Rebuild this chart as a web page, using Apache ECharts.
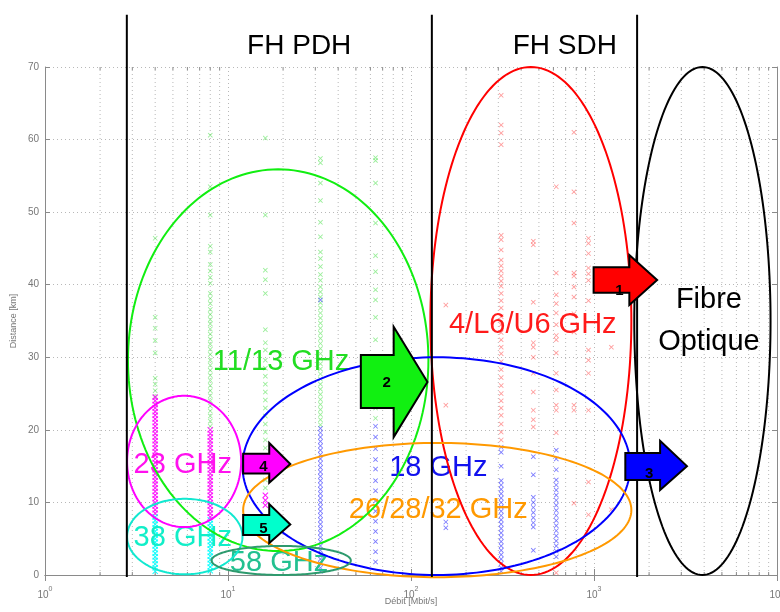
<!DOCTYPE html>
<html>
<head>
<meta charset="utf-8">
<script src="https://cdn.jsdelivr.net/npm/echarts@6/dist/echarts.min.js"></script>
<style>
  html, body { margin: 0; padding: 0; background: #fff; }
  #chart { width: 780px; height: 612px; }
</style>
</head>
<body>
<div id="chart"></div>
<script>
// Microwave link inventory: distance (km) versus bit rate (Mbit/s), per frequency band.
// Each band lists [bit rate, distances of the links at that rate].
const band11_13GHz = [
  [4,  [46.4, 35.5, 34.0, 32.3, 30.6, 27.1, 26.3, 25.4, 24.6]],
  [8,  [60.6, 53.5, 49.6, 45.3, 44.5, 42.8, 41.9, 41.0, 40.2, 38.8, 38.1, 37.4, 36.6, 35.9, 35.2, 34.6, 33.9, 33.2, 32.5, 31.8, 31.1, 30.4, 29.6, 28.9, 28.2, 27.5, 26.8, 26.1, 25.4, 24.7, 24.0, 23.3, 22.6, 21.9, 21.2, 20.5]],
  [16, [60.2, 49.6, 42.0, 40.7, 38.8, 33.8, 32.0, 31.0, 29.6, 28.5, 27.4, 26.3, 25.2, 24.1, 23.0, 21.9, 20.8, 19.7, 18.6, 17.5, 16.4, 15.3, 14.2, 13.1, 12.0]],
  [32, [57.4, 56.8, 54.0, 51.6, 48.6, 46.6, 44.5, 43.6, 42.5, 41.4, 40.6, 39.7, 39.0, 38.3, 37.5, 36.8, 36.1, 35.4, 34.7, 34.0, 33.3, 32.6, 31.9, 31.2, 30.5, 29.8, 29.1, 28.4, 27.7, 27.0, 26.3, 25.6, 24.9, 24.2, 23.5, 22.8, 22.1, 21.4, 20.7]],
  [64, [57.5, 57.1, 54.0, 48.5, 44.0, 41.8, 39.3, 37.9, 35.5, 32.4, 30.0, 28.0, 26.0, 24.5, 23.0, 21.6]]
];
const band23GHz = [
  [4,  [24.5, 24.0, 23.5, 23.0, 22.5, 22.0, 21.5, 21.0, 20.5, 20.0, 19.5, 19.0, 18.5, 18.0, 17.5, 17.0, 16.5, 16.0, 15.5, 15.0, 14.5, 14.0, 13.5, 13.0, 12.5, 12.0, 11.5, 11.0, 10.5, 10.0, 9.5, 9.0, 8.5]],
  [8,  [20.0, 19.5, 19.0, 18.5, 18.0, 17.5, 17.0, 16.5, 16.0, 15.5, 15.0, 14.5, 14.0, 13.5, 13.0, 12.5, 12.0, 11.5, 11.0, 10.5, 10.0, 9.5, 9.0, 8.5, 8.0]],
  [16, [11.0, 10.3, 9.6]]
];
const band38GHz = [
  [4, [8.0, 7.5, 7.0, 6.5, 6.0, 5.5, 5.0, 4.5, 4.0, 3.5, 3.0, 2.5, 2.0, 1.5, 1.0, 0.5]],
  [8, [7.6, 7.1, 6.6, 6.1, 5.6, 5.1, 4.6, 4.1, 3.6, 3.1, 2.6, 2.1, 1.6, 1.1, 0.6]]
];
const band18GHz = [
  [32,  [37.9, 20.2, 19.6, 19.0, 18.4, 17.8, 17.2, 16.6, 16.0, 15.4, 14.8, 14.2, 13.6, 13.0, 12.4, 11.8, 11.2, 10.6, 10.0, 9.4, 8.8, 8.2, 7.6, 7.0, 6.4, 5.8, 5.2, 4.6, 4.0, 3.4, 2.8, 2.2, 1.6, 1.0, 0.5]],
  [64,  [20.5, 19.0, 17.4, 15.9, 14.6, 13.0, 11.6, 10.2, 8.8, 7.4, 6.0, 4.6, 3.2, 1.8]],
  [155, [7.3, 6.5]],
  [311, [17.6, 16.9, 15.0, 13.0, 12.4, 11.8, 11.2, 10.6, 10.0, 9.4, 8.8, 8.2, 7.6, 7.0, 6.4, 5.8, 5.2, 4.6, 4.0, 3.4, 2.8, 2.2, 1.6, 1.0, 0.5]],
  [466, [16.3, 13.8, 10.7, 10.0, 9.3, 8.6, 7.9, 7.2, 6.6, 3.4]],
  [622, [17.2, 16.0, 14.5, 13.1, 12.4, 11.7, 11.0, 10.3, 9.6, 8.9, 8.2, 7.5, 6.8, 6.1, 5.4, 4.7, 4.0, 3.3, 2.5]]
];
const band4_6GHz = [
  [155,  [37.2, 23.4]],
  [311,  [66.1, 62.0, 60.9, 59.3, 46.8, 46.2, 44.8, 43.4, 42.6, 41.9, 41.2, 40.5, 39.8, 38.8, 37.8, 36.8, 35.6, 34.5, 33.4, 32.4, 31.4, 30.5, 29.4, 28.3, 27.2, 26.1, 25.0, 24.0, 23.0, 22.0, 20.8, 19.7, 18.6]],
  [466,  [46.0, 45.5, 37.6, 32.0, 31.4, 30.0, 27.8, 25.2, 22.7, 21.4, 20.4]],
  [622,  [53.5, 41.6, 38.6, 37.4, 36.1, 34.5, 33.0, 32.4, 30.6, 27.8, 25.5, 23.4, 22.7, 19.6, 0.3]],
  [777,  [61.0, 52.8, 48.5, 41.6, 41.2, 39.7, 38.3, 36.0, 33.5, 23.4, 22.7, 9.9]],
  [933,  [46.4, 45.7, 44.3, 42.3, 41.5, 40.6, 37.8, 31.0, 29.6, 27.8, 22.7, 12.8, 8.3]],
  [1244, [31.4, 9.0]]
];

// Axis ticks
const xTicks = [1, 10, 100, 1000, 10000];
const yTicks = [0, 10, 20, 30, 40, 50, 60, 70];

// Network class boundaries (Mbit/s): PDH radio | SDH radio | optical fibre
const boundaryRates = [2.8, 130, 1720];

// Coverage zones of each technology, as [rate min, rate max, km min, km max]
const zones = [
  { box: [2.84, 124.5, 3.3, 55.9], color: '#11ee11' },
  { box: [127.6, 1600, 0, 70],     color: '#ff0000' },
  { box: [1660, 9220, 0, 70],      color: '#000000' },
  { box: [12.0, 1578, 0, 30.0],    color: '#0000ff' },
  { box: [12.1, 1600, -0.3, 18.2], color: '#ff9900' },
  { box: [2.81, 11.8, 6.6, 24.7],  color: '#ff00ff' },
  { box: [2.81, 12.0, 0.1, 10.5],  color: '#11e8d0' },
  { box: [8.13, 46.9, 0, 4.0],     color: '#2e9a6e' }
];

// Migration arrows: tail, head base and tip rates; axis km; body and head half-spans (km)
const arrows = [
  { rates: [995, 1560, 2213],  km: 40.65, body: [42.4, 38.9], head: [44.1, 37.2], fill: '#ff0000', label: '1', at: [1376, 39.2] },
  { rates: [53.2, 80.4, 123],  km: 26.6,  body: [30.3, 23.0], head: [34.2, 19.0], fill: '#11f011', label: '2', at: [73.6, 26.5] },
  { rates: [1483, 2297, 3221], km: 15.0,  body: [16.8, 13.1], head: [18.5, 11.7], fill: '#0000ff', label: '3', at: [2003, 13.9] },
  { rates: [12.1, 16.8, 21.9], km: 15.3,  body: [16.7, 14.0], head: [18.2, 12.7], fill: '#ff00ff', label: '4', at: [15.6, 14.9] },
  { rates: [12.1, 16.8, 21.9], km: 6.96,  body: [8.27, 5.51], head: [9.78, 4.41], fill: '#00ffcc', label: '5', at: [15.6, 6.34] }
];

// Text annotations
const FONT = '"Liberation Sans", Arial, sans-serif';
const notes = [
  { text: 'FH PDH',       at: [24.5, 72.9], color: '#000000', size: 28 },
  { text: 'FH SDH',       at: [692, 72.9],  color: '#000000', size: 28 },
  { text: '11/13 GHz',    at: [19.5, 29.35], color: '#22dd22', size: 29 },
  { text: '4/L6/U6 GHz',  at: [463, 34.45], color: '#ff1a1a', size: 29 },
  { text: 'Fibre',        at: [4246, 37.9], color: '#000000', size: 29 },
  { text: 'Optique',      at: [4246, 32.1], color: '#000000', size: 29 },
  { text: '23 GHz',       at: [5.66, 15.16], color: '#ff11ee', size: 29 },
  { text: '18 GHz',       at: [141, 14.8],  color: '#1111ee', size: 29 },
  { text: '26/28/32 GHz', at: [141, 8.96],  color: '#ff9900', size: 29 },
  { text: '38 GHz',       at: [5.66, 5.1],  color: '#11eec8', size: 29 },
  { text: '58 GHz',       at: [19.0, 1.65], color: '#22c090', size: 29 }
];

// Minor grid positions of the logarithmic rate axis (2..9 in each decade)
const minorRates = [];
for (let d = 1; d < 10000; d *= 10) {
  for (let k = 2; k <= 9; k++) minorRates.push(k * d);
}

const X_MARK = 'path://M0,1.2L1.2,0L5,3.8L8.8,0L10,1.2L6.2,5L10,8.8L8.8,10L5,6.2L1.2,10L0,8.8L3.8,5Z';
const GRID_COLOR = '#b8b8b8';
const AXIS_COLOR = '#8a8a8a';

function flatten(cols) {
  const out = [];
  cols.forEach(([r, ds]) => ds.forEach(d => out.push([r, d])));
  return out;
}

function linkSeries(name, cols, color, opacity, size, z) {
  return {
    type: 'scatter', name, data: flatten(cols),
    symbol: X_MARK, symbolSize: size,
    itemStyle: { color, opacity }, z, silent: true
  };
}

const chart = echarts.init(document.getElementById('chart'));

const xLabel = {
  formatter: v => '{b|10}{e|' + Math.round(Math.log10(v)) + '}',
  rich: {
    b: { fontSize: 10, color: '#777', fontFamily: FONT, verticalAlign: 'bottom', lineHeight: 14 },
    e: { fontSize: 7, color: '#777', fontFamily: FONT, verticalAlign: 'top', lineHeight: 14 }
  },
  margin: 11
};

chart.setOption({
  animation: false,
  backgroundColor: '#ffffff',
  grid: { left: 45, right: 3, top: 67, bottom: 37, show: false, outerBoundsMode: 'none', containLabel: false },
  xAxis: [
    {
      type: 'log', logBase: 10, min: xTicks[0], max: xTicks[xTicks.length - 1],
      position: 'bottom',
      axisLine: { show: true, lineStyle: { color: AXIS_COLOR } },
      axisTick: { show: true, inside: true, length: 6, lineStyle: { color: AXIS_COLOR } },
      axisLabel: xLabel,
      splitLine: { show: true, lineStyle: { color: GRID_COLOR, type: [1, 3] } },
      name: 'Débit [Mbit/s]', nameLocation: 'middle', nameGap: 22, nameMoveOverlap: false,
      nameTextStyle: { fontSize: 9, color: '#777', fontFamily: FONT }
    },
    {
      type: 'log', logBase: 10, min: xTicks[0], max: xTicks[xTicks.length - 1],
      position: 'top',
      axisLine: { show: true, lineStyle: { color: AXIS_COLOR } },
      axisTick: { show: true, inside: true, length: 6, lineStyle: { color: AXIS_COLOR } },
      axisLabel: { show: false }, splitLine: { show: false }
    }
  ],
  yAxis: [
    {
      type: 'value', min: yTicks[0], max: yTicks[yTicks.length - 1], interval: 10,
      axisLine: { show: true, lineStyle: { color: AXIS_COLOR } },
      axisTick: { show: true, inside: true, length: 5, lineStyle: { color: AXIS_COLOR } },
      axisLabel: { fontSize: 10, color: '#777', fontFamily: FONT, margin: 6 },
      splitLine: { show: true, lineStyle: { color: GRID_COLOR, type: [1, 3] } },
      name: 'Distance [km]', nameLocation: 'middle', nameGap: 27, nameRotate: 90, nameMoveOverlap: false,
      nameTextStyle: { fontSize: 9, color: '#777', fontFamily: FONT }
    },
    {
      type: 'value', min: yTicks[0], max: yTicks[yTicks.length - 1], interval: 10,
      position: 'right',
      axisLine: { show: true, lineStyle: { color: AXIS_COLOR } },
      axisTick: { show: true, inside: true, length: 5, lineStyle: { color: AXIS_COLOR } },
      axisLabel: { show: false }, splitLine: { show: false }
    }
  ],
  series: [
    // minor decade grid with small ticks on bottom and top edges
    {
      type: 'custom', silent: true, z: 1,
      data: minorRates.map(r => [r, 0]), encode: { x: 0, y: 1 },
      renderItem(params, api) {
        const r = api.value(0);
        const a = api.coord([r, 0]);
        const b = api.coord([r, 70]);
        return {
          type: 'group',
          children: [
            { type: 'line', shape: { x1: a[0], y1: a[1], x2: b[0], y2: b[1] }, style: { stroke: GRID_COLOR, lineDash: [1, 3], lineWidth: 1 } },
            { type: 'line', shape: { x1: a[0], y1: a[1], x2: a[0], y2: a[1] - 3 }, style: { stroke: AXIS_COLOR, lineWidth: 1 } },
            { type: 'line', shape: { x1: b[0], y1: b[1], x2: b[0], y2: b[1] + 3 }, style: { stroke: AXIS_COLOR, lineWidth: 1 } }
          ]
        };
      }
    },
    linkSeries('11/13 GHz', band11_13GHz, '#33dd33', 0.5, 5, 3),
    linkSeries('4/L6/U6 GHz', band4_6GHz, '#ff2222', 0.45, 5, 3),
    linkSeries('18 GHz', band18GHz, '#2222ff', 0.6, 5, 4),
    linkSeries('23 GHz', band23GHz, '#ff00ff', 0.9, 6, 5),
    linkSeries('38 GHz', band38GHz, '#00ffff', 0.95, 6, 5),
    // text annotations
    {
      type: 'custom', silent: true, z: 6, clip: false,
      data: notes.map(n => n.at), encode: { x: 0, y: 1 },
      renderItem(params, api) {
        const n = notes[params.dataIndex];
        const p = api.coord(n.at);
        return {
          type: 'text', x: p[0], y: p[1],
          style: { text: n.text, fill: n.color, font: n.size + 'px ' + FONT, align: 'center', verticalAlign: 'middle' }
        };
      }
    },
    // coverage zones
    {
      type: 'custom', silent: true, z: 7, clip: false,
      data: zones.map(z => z.box), encode: { x: [0, 1], y: [2, 3] },
      renderItem(params, api) {
        const z = zones[params.dataIndex];
        const a = api.coord([z.box[0], z.box[2]]);
        const b = api.coord([z.box[1], z.box[3]]);
        const cx = (a[0] + b[0]) / 2, cy = (a[1] + b[1]) / 2;
        const rx = Math.abs(b[0] - a[0]) / 2, ry = Math.abs(b[1] - a[1]) / 2;
        const pts = [];
        for (let i = 0; i < 180; i++) {
          const t = i / 180 * Math.PI * 2;
          pts.push([cx + rx * Math.cos(t), cy + ry * Math.sin(t)]);
        }
        return { type: 'polygon', shape: { points: pts }, style: { fill: 'none', stroke: z.color, lineWidth: 2 } };
      }
    },
    // class boundaries
    {
      type: 'custom', silent: true, z: 8, clip: false,
      data: boundaryRates.map(r => [r, 0]), encode: { x: 0, y: 1 },
      renderItem(params, api) {
        const r = api.value(0);
        const a = api.coord([r, 0]);
        const b = api.coord([r, 77.2]);
        return { type: 'line', shape: { x1: a[0], y1: a[1] + 2, x2: b[0], y2: b[1] }, style: { stroke: '#000', lineWidth: 2 } };
      }
    },
    // migration arrows
    {
      type: 'custom', silent: true, z: 9, clip: false,
      data: arrows.map(a => [a.rates[0], a.km]), encode: { x: 0, y: 1 },
      renderItem(params, api) {
        const a = arrows[params.dataIndex];
        const [r0, r1, r2] = a.rates;
        const pts = [
          api.coord([r0, a.body[0]]), api.coord([r1, a.body[0]]), api.coord([r1, a.head[0]]),
          api.coord([r2, a.km]),
          api.coord([r1, a.head[1]]), api.coord([r1, a.body[1]]), api.coord([r0, a.body[1]])
        ];
        const lp = api.coord(a.at);
        return {
          type: 'group',
          children: [
            { type: 'polygon', shape: { points: pts }, style: { fill: a.fill, stroke: '#000', lineWidth: 2, lineJoin: 'miter' } },
            { type: 'text', x: lp[0], y: lp[1], style: { text: a.label, fill: '#000', font: 'bold 15px ' + FONT, align: 'center', verticalAlign: 'middle' } }
          ]
        };
      }
    }
  ]
});
</script>
</body>
</html>
